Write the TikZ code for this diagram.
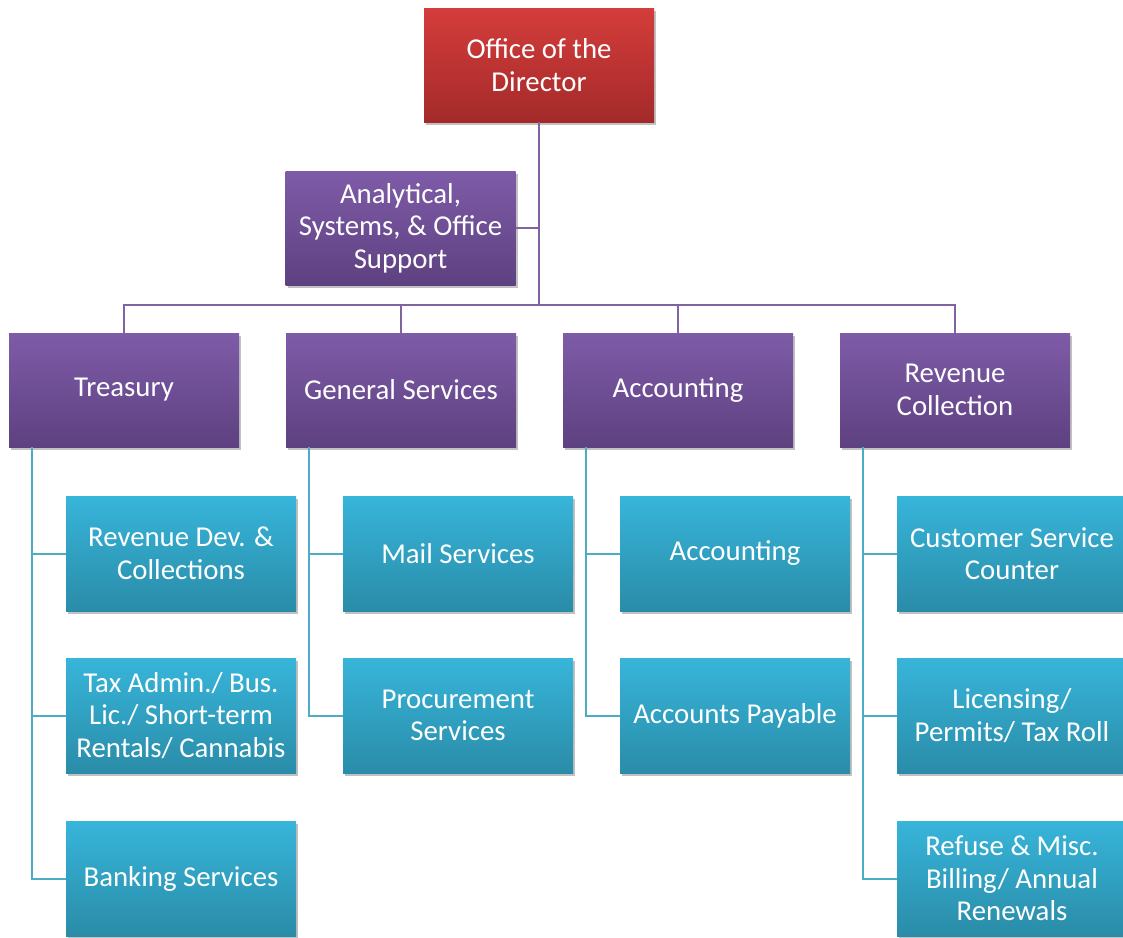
\documentclass[tikz,border=0pt]{standalone}
\usepackage{fontspec}
\setmainfont{Carlito}
\usetikzlibrary{shadows}
\definecolor{redT}{HTML}{D43D3B}
\definecolor{redB}{HTML}{A42A2A}
\definecolor{purT}{HTML}{7E5BA8}
\definecolor{purB}{HTML}{5E4180}
\definecolor{tealT}{HTML}{37B5DA}
\definecolor{tealB}{HTML}{2A8CA8}
\definecolor{pline}{HTML}{8064A2}
\definecolor{tline}{HTML}{4BACC6}
\tikzset{
  box/.style={minimum width=230pt, minimum height=114pt, inner sep=0pt, align=center,
    text=white, font=\fontsize{28.8}{32.5}\selectfont,
    drop shadow={shadow xshift=2pt, shadow yshift=-3pt, opacity=0.35, fill=black!70}},
  topbox/.style={box, top color=redT, bottom color=redB},
  midbox/.style={box, top color=purT, bottom color=purB},
  lowbox/.style={box, top color=tealT, bottom color=tealB, minimum height=115pt},
  pl/.style={draw=pline, line width=2pt},
  tl/.style={draw=tline, line width=2pt},
}
\begin{document}
\begin{tikzpicture}[x=1pt,y=-1pt]
\useasboundingbox (0,0) rectangle (1123,937);
\coordinate (busc) at (539,305);
\node[topbox] (dir) at (539,65) {Office of the\\Director};
\node[midbox] (asos) at (400.5,228) {Analytical,\\Systems, \& Office\\Support};
\node[midbox] (treas) at (124,390) {Treasury};
\node[midbox] (gen) at (401,390) {General Services};
\node[midbox] (acct) at (678,390) {Accounting};
\node[midbox] (rev) at (955,390) {Revenue\\Collection};
\node[lowbox] (t1) at (181,553.5) {Revenue Dev. \&\\Collections};
\node[lowbox] (t2) at (181,715.5) {Tax Admin./ Bus.\\Lic./ Short-term\\Rentals/ Cannabis};
\node[lowbox] (t3) at (181,878.5) {Banking Services};
\node[lowbox] (g1) at (458,553.5) {Mail Services};
\node[lowbox] (g2) at (458,715.5) {Procurement\\Services};
\node[lowbox] (a1) at (735,553.5) {Accounting};
\node[lowbox] (a2) at (735,715.5) {Accounts Payable};
\node[lowbox] (r1) at (1012,553.5) {Customer Service\\Counter};
\node[lowbox] (r2) at (1012,715.5) {Licensing/\\Permits/ Tax Roll};
\node[lowbox] (r3) at (1012,878.5) {Refuse \& Misc.\\Billing/ Annual\\Renewals};
% connectors
\draw[pl] (dir.south) -- (busc);
\draw[pl] (asos.east) -- (asos.east -| busc);
\draw[pl] (treas.north) -- (treas.north |- busc) -- (rev.north |- busc) -- (rev.north);
\draw[pl] (gen.north) -- (gen.north |- busc);
\draw[pl] (acct.north) -- (acct.north |- busc);
\draw[tl] ([xshift=23pt]treas.south west) |- (t3.west);
\draw[tl] ([xshift=23pt]treas.south west) |- (t1.west);
\draw[tl] ([xshift=23pt]treas.south west) |- (t2.west);
\draw[tl] ([xshift=23pt]gen.south west) |- (g2.west);
\draw[tl] ([xshift=23pt]gen.south west) |- (g1.west);
\draw[tl] ([xshift=23pt]acct.south west) |- (a2.west);
\draw[tl] ([xshift=23pt]acct.south west) |- (a1.west);
\draw[tl] ([xshift=23pt]rev.south west) |- (r3.west);
\draw[tl] ([xshift=23pt]rev.south west) |- (r1.west);
\draw[tl] ([xshift=23pt]rev.south west) |- (r2.west);
\end{tikzpicture}
\end{document}
